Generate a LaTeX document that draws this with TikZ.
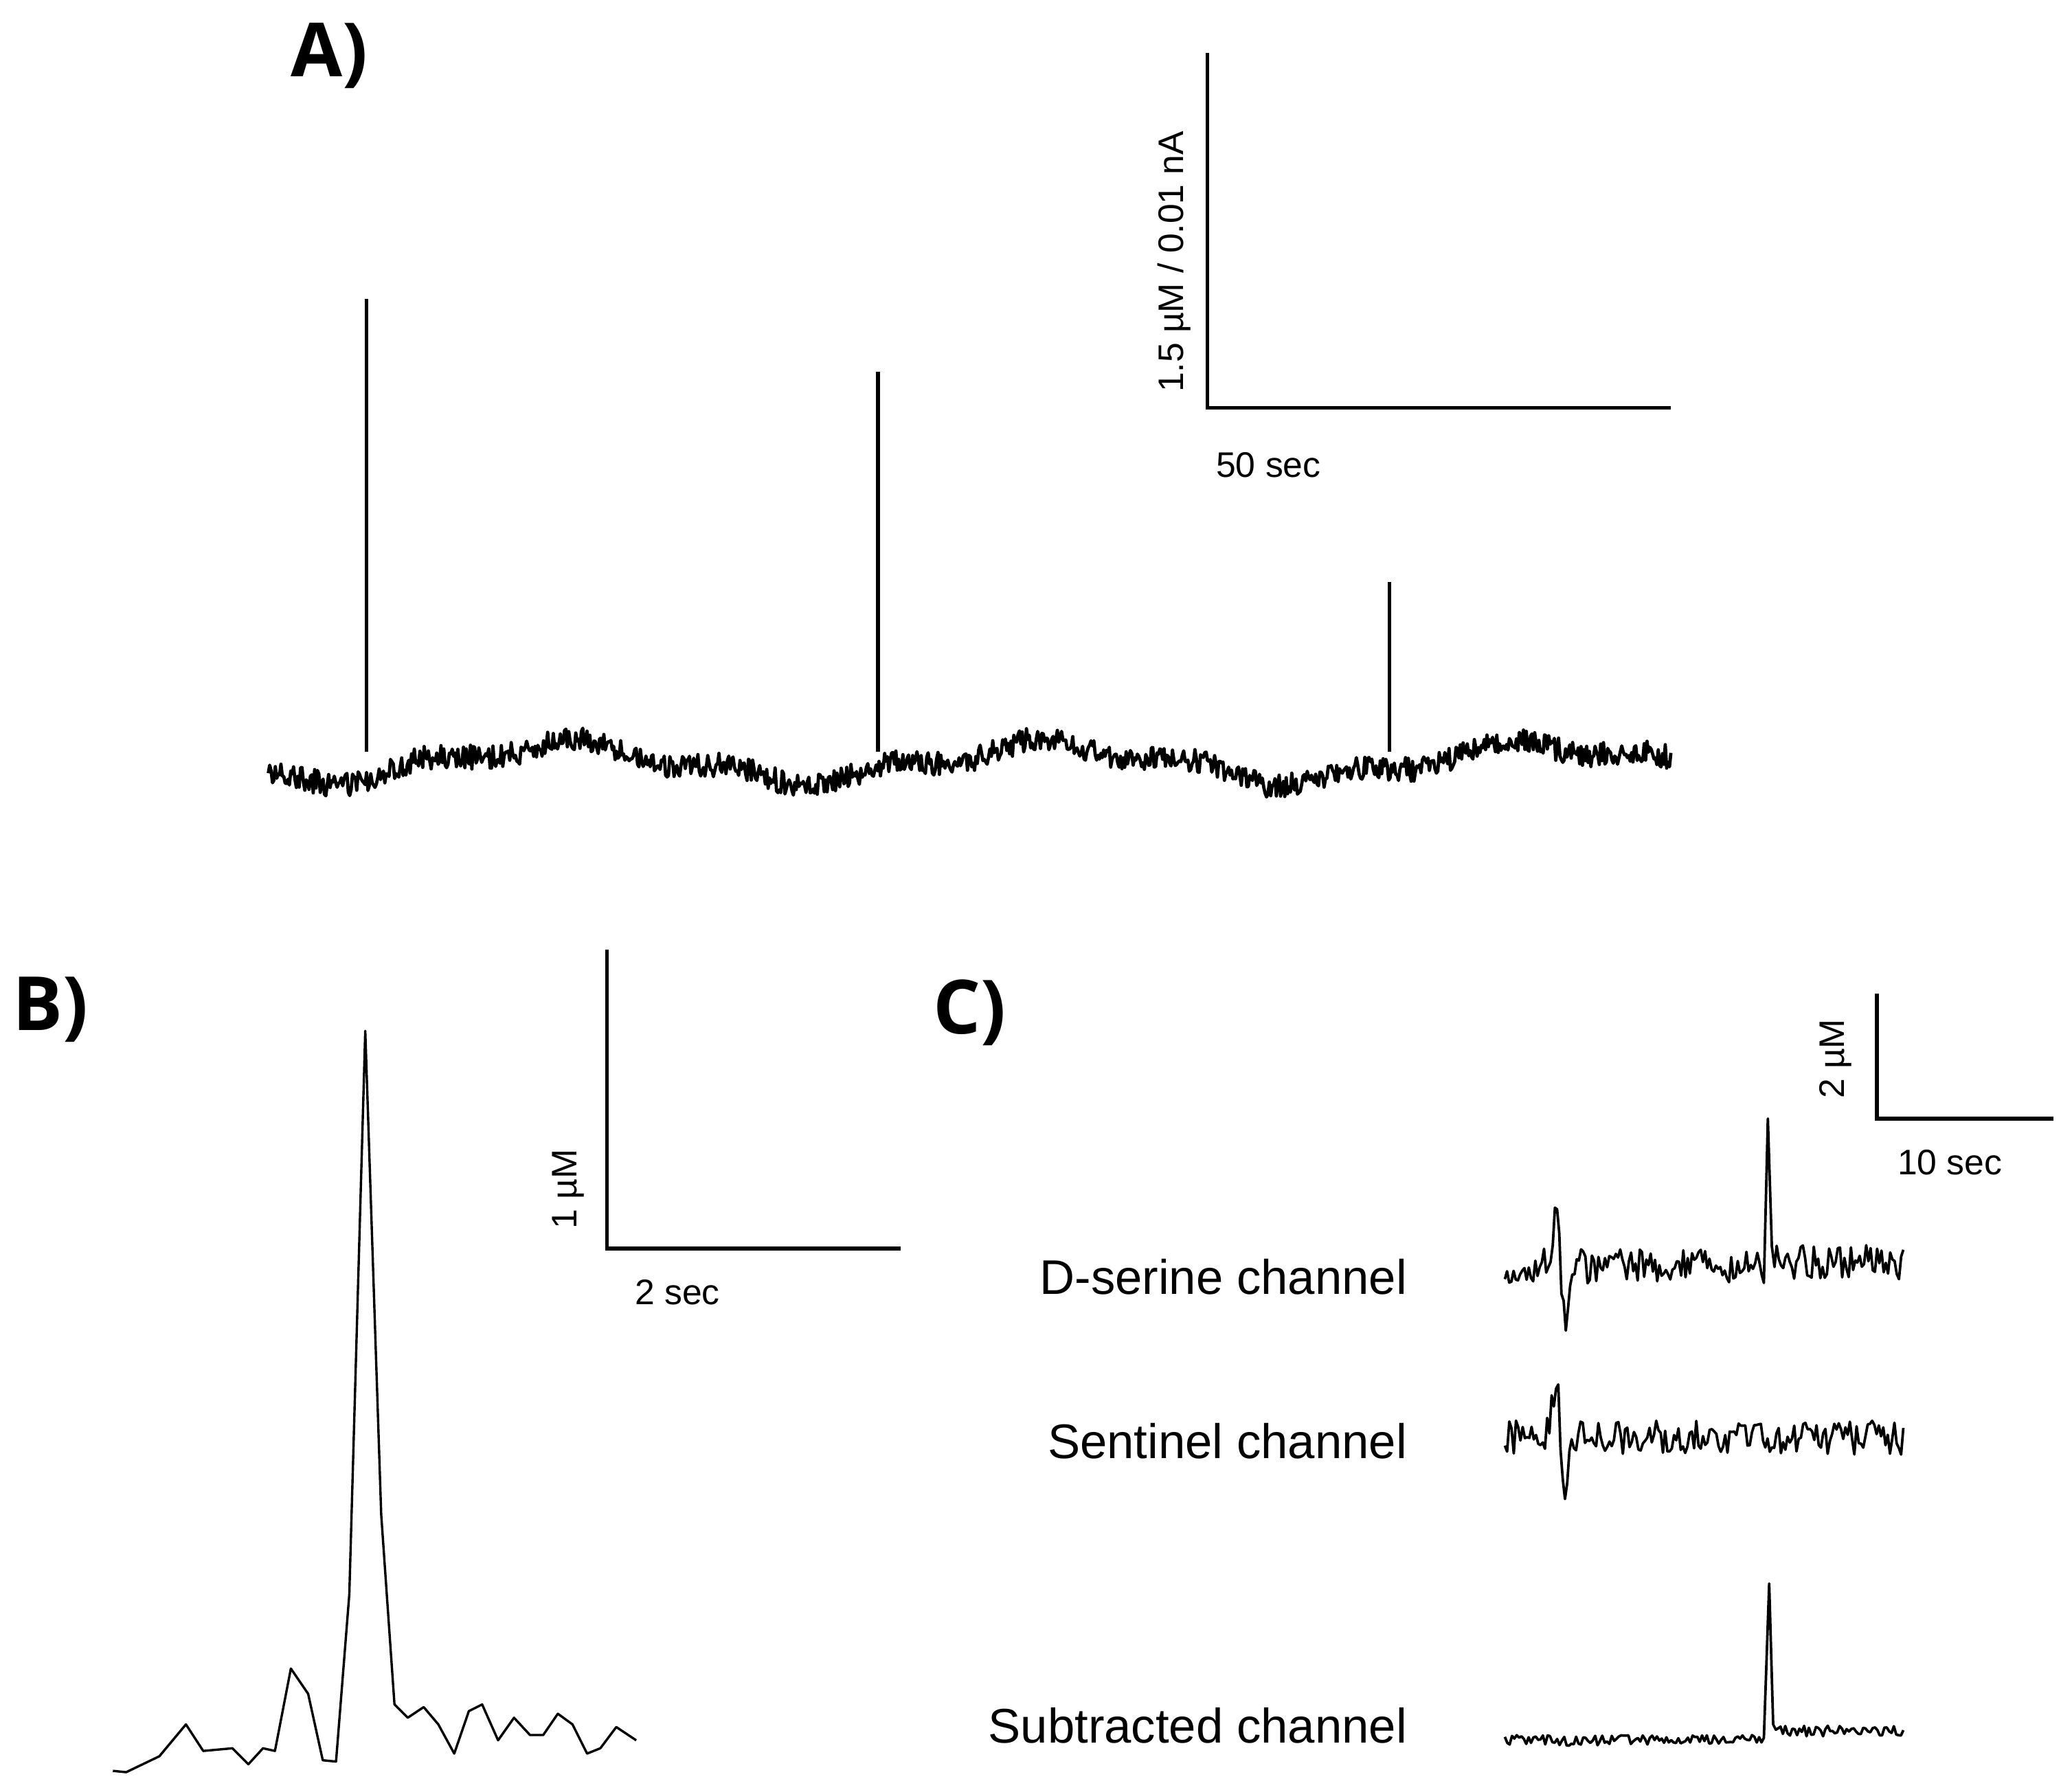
\documentclass[tikz,border=0pt]{standalone}
\usepackage{fontspec}
\setmainfont{Liberation Sans}
\newfontfamily\panelfont{Open Sans}
\begin{document}
\begin{tikzpicture}[x=0.01cm,y=-0.01cm,
  trace/.style={line width=0.6pt,line join=round},
  bar/.style={line width=0.85pt},
  lab/.style={font=\fontsize{7.6}{9}\selectfont,inner sep=0pt},
  chan/.style={font=\fontsize{10.4}{12}\selectfont,inner sep=0pt,anchor=east},
  panel/.style={font=\panelfont\bfseries\fontsize{16}{18}\selectfont,inner sep=0pt},
  declare function={bump(\t)=min(max((\t-1175)/5,-3),3)*exp(-(min(max((\t-1175)/5,-3),3))^2);}]
\useasboundingbox (0,0) rectangle (1560,1339);
\pgfmathsetseed{7}
% Panel A
\node[panel] (pa) at (248,42) {A)};
\coordinate (at) at (909,40); \coordinate (ac) at (909,307); \coordinate (ar) at (1258,307);
\draw[bar] (at) -- (ac) -- (ar);
\node[lab,rotate=90] (ay) at (884,197) {1.5 µM / 0.01 nA};
\node[lab] (ax) at (955,350) {50 sec};
\draw[trace,line width=0.7pt] plot[domain=202:1258,samples=1000] (\x,{574-13*cos(0.973*(\x-420))+5*sin(3.1*\x)+9*rand});
\foreach \sx/\sy in {276/225,661/280,1046/438}{
  \draw[trace,line width=0.8pt] (\sx,566) -- (\sx,\sy);}
% Panel B
\node[panel] (pb) at (38,760) {B)};
\coordinate (bt) at (457,715); \coordinate (bc) at (457,940); \coordinate (br) at (678,940);
\draw[bar] (bt) -- (bc) -- (br);
\node[lab,rotate=90] (by) at (428,895) {1 µM};
\node[lab] (bx) at (510,973) {2 sec};
\draw[line width=0.5pt,line join=round] (85,1333)--(95,1334)--(120,1322)--(140,1298)--(153,1318)--(175,1316)--(187,1328)--(198,1316)--(207,1318)--(219,1256)--(232,1275)--(243,1325)--(253,1326)--(263,1200)--(275,776)--(287,1140)--(297,1283)--(307,1293)--(319,1285)--(330,1298)--(342,1320)--(353,1288)--(363,1283)--(375,1310)--(387,1293)--(399,1306)--(409,1306)--(420,1290)--(431,1298)--(442,1320)--(452,1316)--(464,1300)--(479,1310);
% Panel C
\node[panel] (pc) at (730,762) {C)};
\coordinate (ct) at (1413,748); \coordinate (cc) at (1413,842); \coordinate (cr) at (1546,842);
\draw[bar] (ct) -- (cc) -- (cr);
\node[lab,rotate=90] (cy) at (1382,797) {2 µM};
\node[lab] (cx) at (1468,875) {10 sec};
\node[chan] (c1) at (1060,961) {D-serine channel};
\node[chan] (c2) at (1060,1085) {Sentinel channel};
\node[chan] (c3) at (1060,1299) {Subtracted channel};
\draw[trace,line width=0.55pt] plot[domain=1133:1328,samples=120] (\x,{953+13*rand+90*bump(\x)})
  -- (1331,842) -- (1334,938)
  -- plot[domain=1336:1433,samples=60] (\x,{950+13*rand});
\draw[trace,line width=0.55pt] plot[domain=1133:1433,samples=180] (\x,{1082+13*rand+100*bump(\x)});
\draw[trace,line width=0.55pt] plot[domain=1133:1328,samples=110] (\x,{1310+4*rand})
  -- (1332,1192) -- (1335,1298)
  -- plot[domain=1337:1433,samples=55] (\x,{1303+4*rand});
\end{tikzpicture}
\end{document}
